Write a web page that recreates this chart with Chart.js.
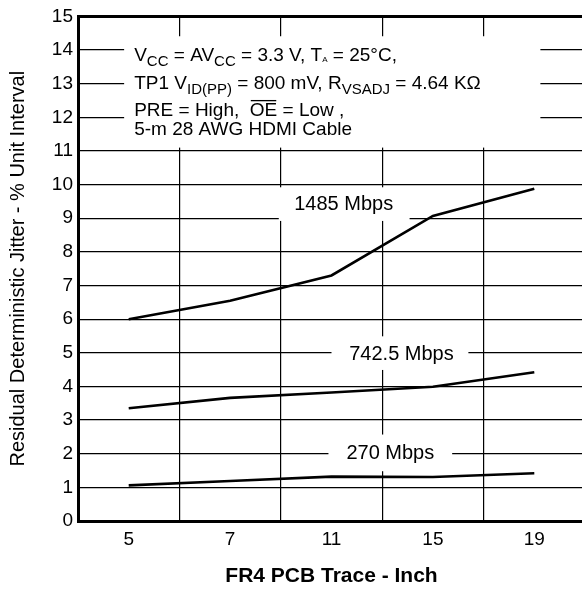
<!DOCTYPE html>
<html><head><meta charset="utf-8">
<script src="https://cdn.jsdelivr.net/npm/chart.js@4.4.1/dist/chart.umd.min.js"></script>
<style>html,body{margin:0;padding:0;background:#fff;overflow:hidden;width:582px;height:589px}canvas{display:block}</style>
</head><body>
<canvas id="c" width="585" height="589"></canvas>
<script>
// ---- data ----
const categories = ['5', '7', '11', '15', '19'];
const series1485 = [6.0, 6.55, 7.3, 9.07, 9.88];
const series742 = [3.35, 3.66, 3.82, 3.99, 4.42];
const series270 = [1.06, 1.19, 1.32, 1.31, 1.42];
const seriesNames = ['1485 Mbps', '742.5 Mbps', '270 Mbps'];
const yMin = 0;
const yMax = 15;
const yStep = 1;
const xTitle = 'FR4 PCB Trace - Inch';
const yTitle = 'Residual Deterministic Jitter - % Unit Interval';
const conditionLines = [
  [['V'], ['CC', 'sub'], [' = AV'], ['CC', 'sub'], [' = 3.3 V, T'], ['A', 'tiny'], [' = 25°C,']],
  [['TP1 V'], ['ID(PP)', 'sub'], [' = 800 mV, R'], ['VSADJ', 'sub'], [' = 4.64 KΩ']],
  [['PRE = High,  '], ['OE', 'over'], [' = Low ,']],
  [['5-m 28 AWG HDMI Cable']]
];

// ---- styling / placement (data coordinates) ----
const FAMILY = '"Liberation Sans", Arial, Helvetica, sans-serif';
const labelBoxes = [
  { text: seriesNames[0], x0: 1.48, x1: 2.77, y0: 8.92, y1: 9.92, tx: 2.12, ty: 9.40 },
  { text: seriesNames[1], x0: 2.00, x1: 3.35, y0: 4.49, y1: 5.49, tx: 2.69, ty: 4.96 },
  { text: seriesNames[2], x0: 1.97, x1: 3.19, y0: 1.48, y1: 2.57, tx: 2.58, ty: 2.00 }
];
const condBox = { x0: -0.045, x1: 4.06, y0: 11.1, y1: 14.41, tx: 0.054, baselines: [13.68, 12.85, 12.04, 11.48] };

function drawRich(ctx, x, y, segs) {
  let cx = x;
  for (const seg of segs) {
    const t = seg[0], kind = seg[1];
    let size = 19, dy = 0;
    if (kind === 'sub') { size = 15; dy = 5; }
    if (kind === 'tiny') { size = 8; dy = 1; }
    ctx.font = size + 'px ' + FAMILY;
    ctx.fillText(t, cx, y + dy);
    const w = ctx.measureText(t).width;
    if (kind === 'over') ctx.fillRect(cx + 1, y - 16, w - 2, 1.3);
    cx += w;
  }
}

const boxPlugin = {
  id: 'boxes',
  beforeDatasetsDraw(chart) {
    const ctx = chart.ctx, xs = chart.scales.x, ys = chart.scales.y;
    ctx.save();
    let l = xs.getPixelForValue(condBox.x0), r = xs.getPixelForValue(condBox.x1);
    let t = ys.getPixelForValue(condBox.y1), b = ys.getPixelForValue(condBox.y0);
    ctx.fillStyle = '#fff';
    ctx.fillRect(l, t, r - l, b - t);
    ctx.fillStyle = '#000';
    ctx.textBaseline = 'alphabetic';
    ctx.textAlign = 'left';
    const tx = xs.getPixelForValue(condBox.tx);
    conditionLines.forEach((line, i) => drawRich(ctx, tx, ys.getPixelForValue(condBox.baselines[i]), line));
    for (const bx of labelBoxes) {
      l = xs.getPixelForValue(bx.x0); r = xs.getPixelForValue(bx.x1);
      t = ys.getPixelForValue(bx.y1); b = ys.getPixelForValue(bx.y0);
      ctx.fillStyle = '#fff';
      ctx.fillRect(l, t, r - l, b - t);
      ctx.fillStyle = '#000';
      ctx.font = '20px ' + FAMILY;
      ctx.textAlign = 'center';
      ctx.textBaseline = 'middle';
      ctx.fillText(bx.text, xs.getPixelForValue(bx.tx), ys.getPixelForValue(bx.ty));
    }
    ctx.restore();
  }
};

const lineStyle = { borderColor: '#000', borderWidth: 2.6, pointRadius: 0, tension: 0, fill: false };

new Chart(document.getElementById('c'), {
  type: 'line',
  data: {
    labels: categories,
    datasets: [
      Object.assign({ label: seriesNames[0], data: series1485 }, lineStyle),
      Object.assign({ label: seriesNames[1], data: series742 }, lineStyle),
      Object.assign({ label: seriesNames[2], data: series270 }, lineStyle)
    ]
  },
  options: {
    responsive: false,
    animation: false,
    devicePixelRatio: 1,
    layout: { padding: { top: 13, right: 0, bottom: 0, left: 0 } },
    plugins: { legend: { display: false }, tooltip: { enabled: false } },
    scales: {
      x: {
        type: 'category',
        offset: true,
        grid: { offset: true, color: '#000', lineWidth: 1.2, drawTicks: false },
        border: { display: true, color: '#000', width: 3 },
        ticks: { color: '#000', font: { family: FAMILY, size: 19 }, padding: 7, maxRotation: 0, autoSkip: false },
        title: { display: true, text: xTitle, color: '#000', font: { family: FAMILY, size: 21, weight: 'bold' }, padding: { top: 0, bottom: 0 } },
        afterFit(s) { s.height = 68; }
      },
      y: {
        min: yMin, max: yMax,
        grid: { color: '#000', lineWidth: (c) => (c.tick && c.tick.value === yMax ? 3 : 1.2), drawTicks: false },
        border: { display: true, color: '#000', width: 3 },
        ticks: { stepSize: yStep, color: '#000', font: { family: FAMILY, size: 19 }, padding: 5 },
        title: { display: true, text: yTitle, color: '#000', font: { family: FAMILY, size: 20 }, padding: { top: 6, bottom: 0 } },
        afterFit(s) { s.width = 78; }
      }
    }
  },
  plugins: [boxPlugin]
});
</script>
</body></html>
